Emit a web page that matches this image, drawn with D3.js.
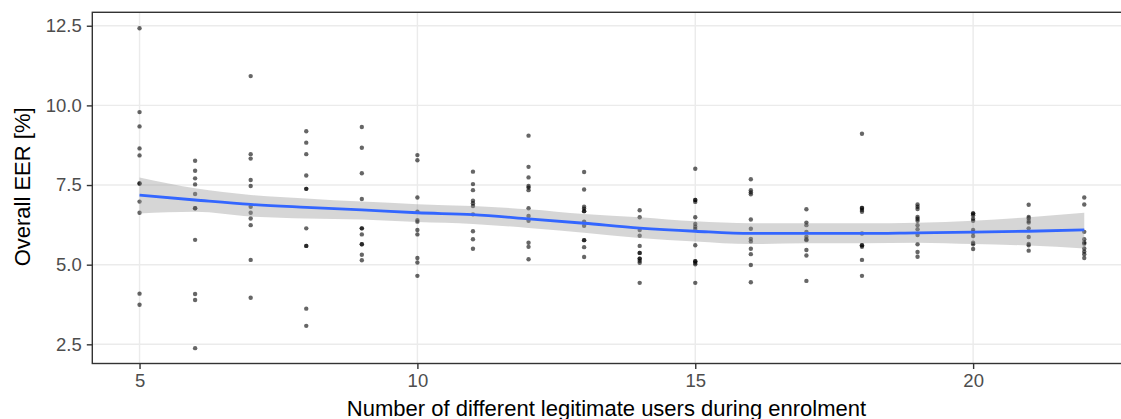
<!DOCTYPE html>
<html>
<head>
<meta charset="utf-8">
<script src="https://cdn.jsdelivr.net/npm/d3@7"></script>
<style>
  html, body { margin: 0; padding: 0; background: #fff; }
  svg { display: block; font-family: "Liberation Sans", Arial, sans-serif; }
</style>
</head>
<body>
<div id="chart"></div>
<script>
// number of legitimate users during enrolment (x categories)
const users = [5, 6, 7, 8, 9, 10, 11, 12, 13, 14, 15, 16, 17, 18, 19, 20, 21, 22];

// overall EER [%] for each run, one list per x value
const eer = [
  [12.42, 9.79, 9.34, 8.65, 8.43, 7.55, 7.55, 6.98, 6.63, 4.09, 3.74],
  [8.26, 7.95, 7.71, 7.52, 7.22, 6.77, 6.77, 5.78, 4.08, 3.89, 2.38],
  [10.92, 8.47, 8.33, 7.66, 7.47, 6.82, 6.63, 6.45, 6.24, 5.15, 3.96],
  [9.19, 8.83, 8.47, 7.80, 7.38, 7.38, 6.14, 5.59, 5.59, 3.62, 3.08],
  [9.32, 8.67, 7.87, 7.06, 6.14, 6.14, 5.95, 5.64, 5.64, 5.31, 5.14],
  [8.44, 8.28, 7.11, 6.66, 6.40, 6.35, 6.09, 5.95, 5.21, 5.07, 4.65],
  [7.92, 7.53, 7.34, 7.01, 6.93, 6.84, 6.58, 6.05, 5.80, 5.50],
  [9.05, 8.07, 7.74, 7.47, 7.42, 7.34, 6.77, 6.53, 6.38, 5.69, 5.56, 5.17],
  [7.91, 7.36, 6.82, 6.76, 6.68, 6.68, 6.35, 6.22, 5.77, 5.77, 5.55, 5.24],
  [6.71, 6.49, 6.09, 5.91, 5.59, 5.37, 5.37, 5.19, 5.19, 5.12, 5.06, 4.43],
  [8.01, 7.03, 7.03, 6.97, 6.49, 6.28, 6.19, 6.12, 5.61, 5.11, 5.11, 5.06, 5.01, 4.43],
  [7.68, 7.34, 7.27, 7.21, 6.42, 6.13, 5.81, 5.73, 5.50, 5.33, 4.99, 4.45],
  [6.74, 6.32, 6.24, 6.03, 5.88, 5.80, 5.77, 5.46, 5.29, 4.49],
  [9.11, 6.78, 6.78, 6.72, 6.66, 5.98, 5.61, 5.61, 5.56, 5.15, 4.65],
  [6.89, 6.82, 6.75, 6.50, 6.44, 6.38, 6.24, 6.11, 5.93, 5.64, 5.40, 5.25],
  [6.61, 6.61, 6.55, 6.44, 6.38, 6.09, 6.02, 5.90, 5.69, 5.64, 5.49],
  [6.88, 6.50, 6.45, 6.37, 6.32, 6.14, 5.87, 5.65, 5.61, 5.44],
  [7.11, 6.89, 6.03, 5.80, 5.70, 5.66, 5.51, 5.41, 5.33, 5.21]
];

// loess smoother with its confidence band
const fitMean  = [7.18, 7.03, 6.89, 6.80, 6.72, 6.63, 6.57, 6.44, 6.30, 6.15, 6.05, 5.98, 5.98, 5.98, 6.00, 6.02, 6.05, 6.09];
const fitLower = [6.61, 6.66, 6.51, 6.45, 6.42, 6.34, 6.28, 6.15, 6.00, 5.84, 5.73, 5.65, 5.67, 5.67, 5.69, 5.65, 5.60, 5.51];
const fitUpper = [7.74, 7.40, 7.19, 7.08, 6.98, 6.90, 6.84, 6.74, 6.59, 6.49, 6.36, 6.30, 6.30, 6.30, 6.32, 6.38, 6.49, 6.63];

const xTicks = [5, 10, 15, 20];
const yTicks = [2.5, 5.0, 7.5, 10.0, 12.5];

const width = 1121, height = 419;
// the right edge of the panel falls just outside the picture
const margin = { top: 12.3, right: -10.5, bottom: 55.5, left: 92.3 };

const svg = d3.select('#chart').append('svg')
  .attr('width', width)
  .attr('height', height)
  .style('overflow', 'hidden');

const x = d3.scaleLinear()
  .domain([4.15, 22.85])
  .range([margin.left, width - margin.right]);

const y = d3.scaleLinear()
  .domain([1.898, 12.922])
  .range([height - margin.bottom, margin.top]);

const x0 = margin.left, x1 = width - margin.right;
const y0 = height - margin.bottom, y1 = margin.top;

// grid
svg.append('g').selectAll('line')
  .data(yTicks).enter().append('line')
  .attr('x1', x0).attr('x2', x1)
  .attr('y1', d => y(d)).attr('y2', d => y(d))
  .attr('stroke', '#ebebeb').attr('stroke-width', 1.4);

svg.append('g').selectAll('line')
  .data(xTicks).enter().append('line')
  .attr('y1', y0).attr('y2', y1)
  .attr('x1', d => x(d)).attr('x2', d => x(d))
  .attr('stroke', '#ebebeb').attr('stroke-width', 1.4);

// points
const points = [];
users.forEach((u, i) => eer[i].forEach(v => points.push({ u, v })));

svg.append('g').selectAll('circle')
  .data(points).enter().append('circle')
  .attr('cx', d => x(d.u))
  .attr('cy', d => y(d.v))
  .attr('r', 2.2)
  .attr('fill', '#000')
  .attr('fill-opacity', 0.6);

// smoother band + line
const fit = users.map((u, i) => ({ u, m: fitMean[i], lo: fitLower[i], hi: fitUpper[i] }));

svg.append('path')
  .datum(fit)
  .attr('d', d3.area()
    .x(d => x(d.u))
    .y0(d => y(d.lo))
    .y1(d => y(d.hi))
    .curve(d3.curveMonotoneX))
  .attr('fill', '#999999')
  .attr('fill-opacity', 0.4);

svg.append('path')
  .datum(fit)
  .attr('d', d3.line()
    .x(d => x(d.u))
    .y(d => y(d.m))
    .curve(d3.curveMonotoneX))
  .attr('fill', 'none')
  .attr('stroke', '#3366ff')
  .attr('stroke-width', 2.8);

// panel border
svg.append('rect')
  .attr('x', x0).attr('y', y1)
  .attr('width', x1 - x0).attr('height', y0 - y1)
  .attr('fill', 'none')
  .attr('stroke', '#333333')
  .attr('stroke-width', 1.4);

// axes
const xAxis = svg.append('g')
  .attr('transform', `translate(0,${y0})`)
  .call(d3.axisBottom(x).tickValues(xTicks).tickSize(5.5).tickPadding(4.5).tickFormat(d3.format('d')));

const yAxis = svg.append('g')
  .attr('transform', `translate(${x0},0)`)
  .call(d3.axisLeft(y).tickValues(yTicks).tickSize(5.5).tickPadding(5).tickFormat(d3.format('.1f')));

[xAxis, yAxis].forEach(g => {
  g.select('.domain').remove();
  g.selectAll('line').attr('stroke', '#333333').attr('stroke-width', 1.4);
  g.selectAll('text')
    .attr('fill', '#4d4d4d')
    .style('font-size', '18.5px')
    .style('font-family', '"Liberation Sans", Arial, sans-serif');
});

// axis titles
svg.append('text')
  .attr('x', 606.5)
  .attr('y', 415.5)
  .attr('text-anchor', 'middle')
  .attr('fill', '#000')
  .style('font-size', '22px')
  .text('Number of different legitimate users during enrolment');

svg.append('text')
  .attr('transform', `translate(30,${(y0 + y1) / 2 - 1}) rotate(-90)`)
  .attr('text-anchor', 'middle')
  .attr('fill', '#000')
  .style('font-size', '22px')
  .text('Overall EER [%]');
</script>
</body>
</html>
